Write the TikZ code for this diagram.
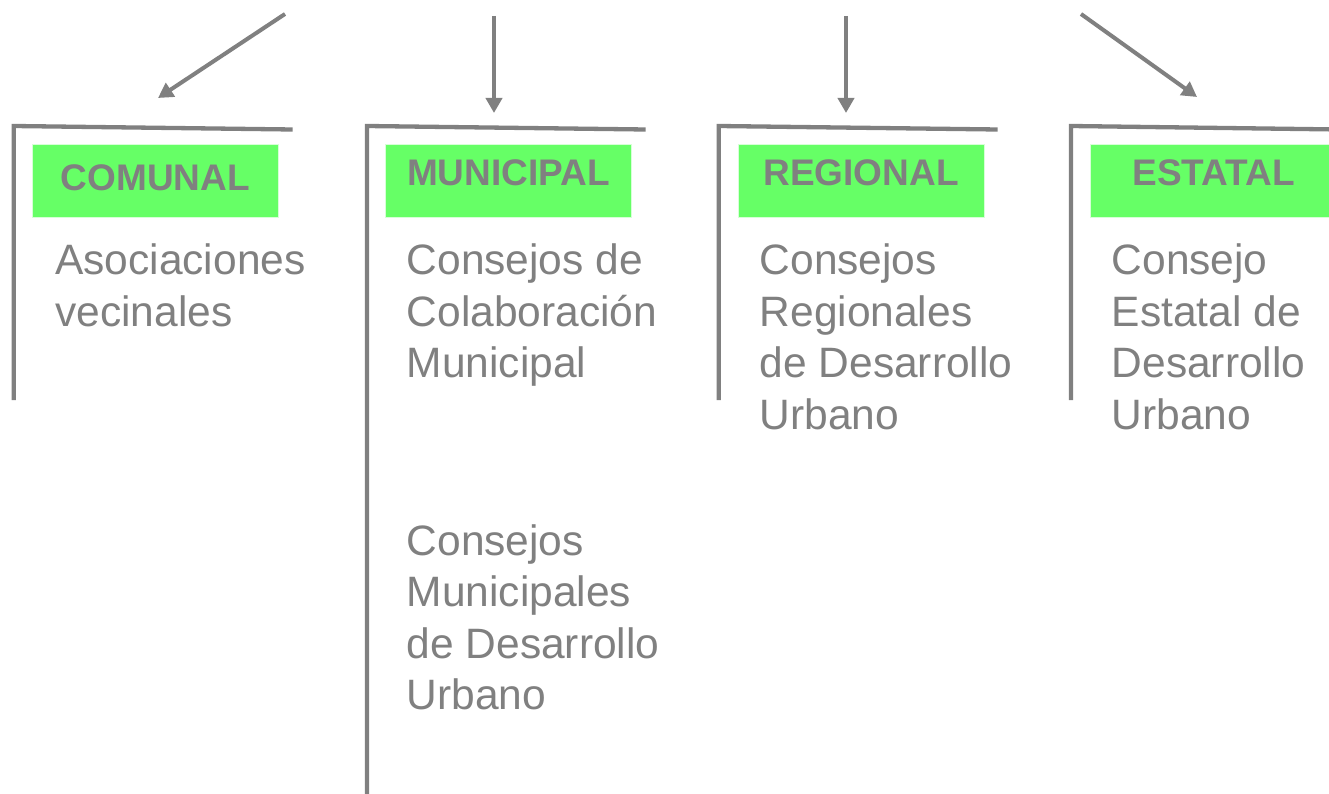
\documentclass[tikz,border=0pt]{standalone}
\usepackage{fontspec}
\setmainfont{Liberation Sans}
\usetikzlibrary{arrows.meta}
\definecolor{lgray}{RGB}{128,128,128}
\definecolor{hgreen}{RGB}{102,255,102}
\definecolor{hedge}{RGB}{215,255,215}
\begin{document}
\begin{tikzpicture}[x=1pt,y=-1pt,
  bracket/.style={draw=lgray,line width=4.3pt},
  arr/.style={draw=lgray,line width=4pt,-{Triangle[width=16pt,length=15pt]}},
  head/.style={fill=hgreen,draw=hedge,line width=1pt,minimum width=246pt,minimum height=73pt,
    inner sep=0pt,text=lgray,font=\fontsize{37}{44}\selectfont\bfseries,anchor=north west,
    text height=26.5pt,text depth=16.7pt},
  body/.style={text=lgray,font=\fontsize{42.5}{51.5}\selectfont,align=left,anchor=north west,inner sep=0pt}]
\useasboundingbox (0,0) rectangle (1329,794);
\clip (0,0) rectangle (1329,794);
\fill[white] (0,0) rectangle (1329,794);

% brackets
\draw[bracket] (13.8,400) -- (13.8,126) -- (292.7,129.5);
\draw[bracket] (367,794) -- (367,126) -- (645.7,129.5);
\draw[bracket] (718.7,400) -- (718.7,126) -- (997.7,129.5);
\draw[bracket] (1071,400) -- (1071,126) -- (1340,129.5);

% headers
\node[head,text depth=6.7pt] (comunal) at (32,144) {COMUNAL};
\node[head] (municipal) at (385,144) {MUNICIPAL};
\node[head] (regional) at (737.5,144) {REGIONAL};
\node[head] (estatal) at (1090,144) {ESTATAL};

% body texts
\node[body] (t1) at (55,244) {Asociaciones\\vecinales};
\node[body] (t2) at (406.5,244) {Consejos de\\Colaboración\\Municipal};
\node[body] (t2b) at (406.5,524) {Consejos\\Municipales\\de Desarrollo\\Urbano};
\node[body] (t3) at (759.5,244) {Consejos\\Regionales\\de Desarrollo\\Urbano};
\node[body] (t4) at (1111.5,244) {Consejo\\Estatal de\\Desarrollo\\Urbano};

% arrows
\coordinate (s1) at (285,14);  \coordinate (e1) at (158,98);
\coordinate (s2) at (494,16);  \coordinate (e2) at (494,113);
\coordinate (s3) at (846,16);  \coordinate (e3) at (846,113);
\coordinate (s4) at (1081,14); \coordinate (e4) at (1197,97);
\draw[arr] (s1) -- (e1);
\draw[arr] (s2) -- (e2);
\draw[arr] (s3) -- (e3);
\draw[arr] (s4) -- (e4);
\end{tikzpicture}
\end{document}
